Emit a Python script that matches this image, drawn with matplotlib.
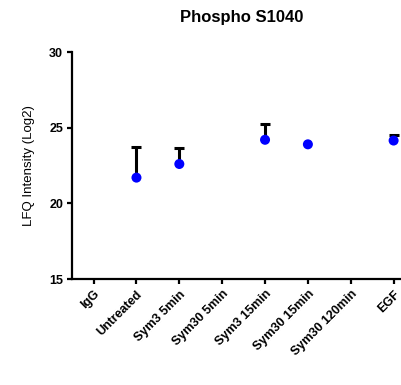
import matplotlib
matplotlib.use("Agg")
import matplotlib.pyplot as plt
import numpy as np

plt.rcParams["font.family"] = ["Liberation Sans", "DejaVu Sans"]

# ── Data ──────────────────────────────────────────────
categories = ["IgG", "Untreated", "Sym3 5min", "Sym30 5min", "Sym3 15min",
              "Sym30 15min", "Sym30 120min", "EGF"]
means = [np.nan, 21.7, 22.6, np.nan, 24.2, 23.9, np.nan, 24.15]
upper_err = [np.nan, 2.0, 1.05, np.nan, 1.05, np.nan, np.nan, 0.35]
y_ticks = [15, 20, 25, 30]

fig = plt.figure(figsize=(4.01, 3.85), dpi=100)
ax = fig.add_axes([0.18, 0.2753, 0.855, 0.5896])

x = np.arange(len(categories))
m = np.array(means)
top = m + np.array(upper_err)

# upper-only error bars: stem + cap
ax.vlines(x, m, top, colors="black", linewidth=2.2, zorder=2)
ax.scatter(x, top, marker="_", s=52, color="black", linewidths=2.2, zorder=2)
ax.scatter(x, m, s=52, color="#0000ff", edgecolors="none", zorder=3, clip_on=False)

ax.set_xlim(-0.5, len(categories) - 0.5)
ax.set_ylim(15, 30)
ax.set_yticks(y_ticks)
ax.set_xticks(x)
ax.set_xticklabels(categories, rotation=45, ha="right", rotation_mode="anchor",
                   fontsize=9, fontweight="bold")
ax.set_yticklabels([str(t) for t in y_ticks], fontsize=9, fontweight="bold")

for side in ["top", "right"]:
    ax.spines[side].set_visible(False)
for side in ["left", "bottom"]:
    ax.spines[side].set_linewidth(1.6)
ax.tick_params(axis="both", width=1.6, length=3.6, pad=3)

ax.set_ylabel("LFQ Intensity (Log2)", fontsize=9.5, labelpad=10)
fig.text(0.603, 0.955, "Phospho S1040", ha="center", va="center",
         fontsize=12, fontweight="bold")

fig.savefig("out.png", dpi=100)
